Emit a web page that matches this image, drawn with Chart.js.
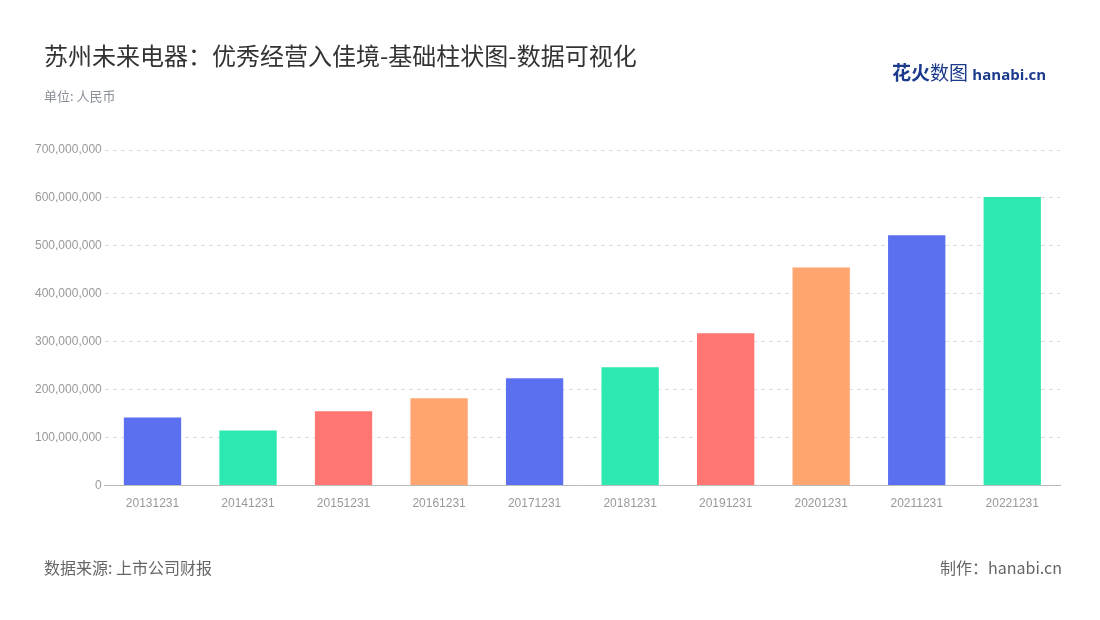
<!DOCTYPE html>
<html>
<head>
<meta charset="utf-8">
<script src="https://cdn.jsdelivr.net/npm/chart.js@4/dist/chart.umd.min.js"></script>
<style>
body { margin: 0; background: #fff; font-family: "Noto Sans CJK SC", "Noto Sans", sans-serif; }
#wrap { position: relative; width: 1100px; height: 620px; }
#c { position: absolute; left: 0; top: 0; }
.t { position: absolute; white-space: nowrap; }
</style>
</head>
<body>
<div id="wrap">
  <canvas id="c" width="1100" height="620"></canvas>
  <div class="t" style="left:44px;top:37px;font-size:24px;color:#333;">苏州未来电器：优秀经营入佳境-基础柱状图-数据可视化</div>
  <div class="t" style="left:44px;top:86px;font-size:13px;color:#8a8f9a;">单位: 人民币</div>
  <div class="t" style="left:892px;top:58px;font-size:19px;font-weight:bold;color:#1b3a8c;">花火<span style="font-weight:normal">数图</span> <span style="font-size:15px;font-family:'Open Sans';">hanabi.cn</span></div>
  <div class="t" style="left:44px;top:555px;font-size:16px;color:#666;">数据来源: 上市公司财报</div>
  <div class="t" style="right:38px;top:555px;font-size:16px;color:#666;">制作：hanabi.cn</div>
</div>
<script>
const categories = ['20131231', '20141231', '20151231', '20161231', '20171231', '20181231', '20191231', '20201231', '20211231', '20221231'];
const values = [142000000, 115000000, 155000000, 182000000, 224000000, 247000000, 318000000, 455000000, 522000000, 602000000];
const palette = ['#5a70f0', '#2de8b0', '#ff7672', '#ffa570'];

const ctx = document.getElementById('c').getContext('2d');
new Chart(ctx, {
    type: 'bar',
    data: {
        labels: categories,
        datasets: [{
            data: values,
            backgroundColor: values.map((v, i) => palette[i % 4]),
            categoryPercentage: 0.6,
            barPercentage: 1
        }]
    },
    options: {
        responsive: false,
        animation: false,
        layout: { padding: { left: 32, right: 40, top: 150, bottom: 106 } },
        plugins: { legend: { display: false }, tooltip: { enabled: false } },
        scales: {
            y: {
                min: 0, max: 700000000,
                ticks: { stepSize: 100000000, color: '#999', font: { size: 12 },
                    callback: v => v.toLocaleString('en-US') },
                grid: { color: '#ddd', drawTicks: false },
                border: { display: false, dash: [4, 4] }
            },
            x: {
                ticks: { color: '#999', font: { size: 12 } },
                grid: { display: false },
                border: { color: '#bbb' }
            }
        }
    }
});
</script>
</body>
</html>
